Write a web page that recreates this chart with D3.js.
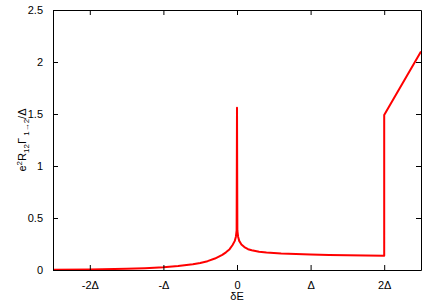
<!DOCTYPE html>
<html>
<head>
<meta charset="utf-8">
<script src="https://cdn.jsdelivr.net/npm/d3@7"></script>
<style>
  body { margin: 0; background: #fff; }
  text { font-family: "Liberation Sans", Arial, sans-serif; font-size: 11px; fill: #000; }
</style>
</head>
<body>
<div id="graph"></div>
<script>
// values
var dE = [-2.5, -2.0, -1.5, -1.25, -1.0, -0.8, -0.6, -0.5, -0.4, -0.3, -0.2, -0.15, -0.1, -0.06, -0.03, -0.015, -0.005, 0,
          0.005, 0.015, 0.03, 0.06, 0.1, 0.15, 0.2, 0.3, 0.4, 0.6, 0.8, 1.0, 1.25, 1.5, 1.75, 2.0, 2.0, 2.5];
var rate = [0.003, 0.006, 0.012, 0.018, 0.027, 0.038, 0.055, 0.068, 0.085, 0.11, 0.145, 0.17, 0.2, 0.24, 0.28, 0.32, 0.38, 1.56,
            0.38, 0.32, 0.28, 0.245, 0.22, 0.2, 0.19, 0.175, 0.168, 0.158, 0.153, 0.149, 0.145, 0.142, 0.139, 0.136, 1.49, 2.1];

var xTicks = [-2, -1, 0, 1, 2];
var xTickLabels = ["-2\u0394", "-\u0394", "0", "\u0394", "2\u0394"];
var yTicks = [0, 0.5, 1, 1.5, 2, 2.5];

var width = 436, height = 305;
var margin = {top: 10, right: 15, bottom: 35, left: 53};

var x = d3.scaleLinear().domain([-2.5, 2.5]).range([margin.left, width - margin.right]);
var y = d3.scaleLinear().domain([0, 2.5]).range([height - margin.bottom, margin.top]);

var svg = d3.select("#graph")
  .append("svg")
    .attr("width", width)
    .attr("height", height)

var points = dE.map(function(d, i) { return [d, rate[i]]; });

var line = d3.line()
    .x(function(d) { return x(d[0]); })
    .y(function(d) { return y(d[1]); });

svg.append("path")
    .datum(points)
    .attr("fill", "none")
    .attr("stroke", "#ff0000")
    .attr("stroke-width", 2)
    .attr("stroke-linejoin", "round")
    .attr("d", line);

// axes, ticks pointing inward on all four sides
var bottomAxis = d3.axisBottom(x).tickValues(xTicks)
    .tickFormat(function(d, i) { return xTickLabels[i]; })
    .tickSizeInner(-5).tickSizeOuter(0).tickPadding(11);
var topAxis = d3.axisTop(x).tickValues(xTicks).tickFormat("").tickSizeInner(-5).tickSizeOuter(0);
var leftAxis = d3.axisLeft(y).tickValues(yTicks).tickFormat(d3.format("")).tickSizeInner(-5).tickSizeOuter(0).tickPadding(10);
var rightAxis = d3.axisRight(y).tickValues(yTicks).tickFormat("").tickSizeInner(-5).tickSizeOuter(0);

function style(g) {
  g.selectAll("path,line").attr("stroke", "#000");
  g.selectAll("text").attr("font-family", null).attr("font-size", null);
}

svg.append("g").attr("transform", "translate(0," + y(0) + ")").call(bottomAxis).call(style);
svg.append("g").attr("transform", "translate(0," + y(2.5) + ")").call(topAxis).call(style);
svg.append("g").attr("transform", "translate(" + x(-2.5) + ",0)").call(leftAxis).call(style);
svg.append("g").attr("transform", "translate(" + x(2.5) + ",0)").call(rightAxis).call(style);

svg.append("text")
    .attr("x", (margin.left + width - margin.right) / 2)
    .attr("y", 300)
    .attr("text-anchor", "middle")
    .text("\u03b4E");

var ylab = svg.append("text")
    .attr("transform", "translate(26," + (margin.top + (height - margin.bottom - margin.top) / 2) + ") rotate(-90)")
    .attr("text-anchor", "middle");
ylab.append("tspan").text("e");
ylab.append("tspan").attr("dy", -4).attr("font-size", "8px").text("2");
ylab.append("tspan").attr("dy", 4).text("R");
ylab.append("tspan").attr("dy", 3).attr("font-size", "8px").text("12");
ylab.append("tspan").attr("dy", -3).text("\u0393");
ylab.append("tspan").attr("dy", 3).attr("font-size", "8px").text(" 1\u21922");
ylab.append("tspan").attr("dy", -3).text("/\u0394");
</script>
</body>
</html>
